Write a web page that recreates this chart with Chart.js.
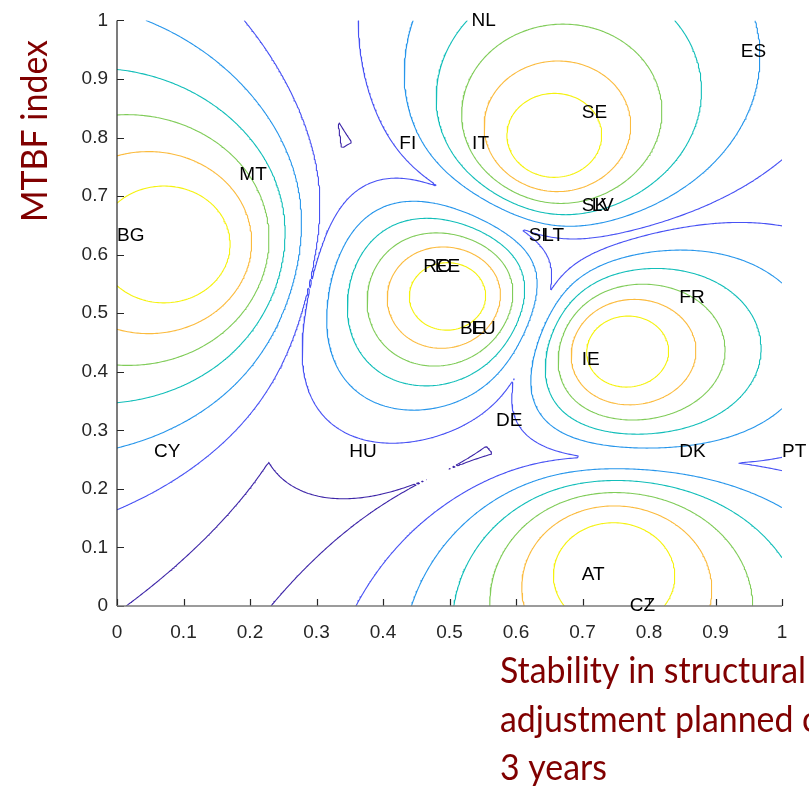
<!DOCTYPE html>
<html>
<head>
<meta charset="utf-8">
<title>MTBF index vs stability — fuzzy clusters</title>
<script src="https://cdn.jsdelivr.net/npm/chart.js@4.4.1/dist/chart.umd.min.js"></script>
<style>
  html, body { margin: 0; padding: 0; background: #ffffff; overflow: hidden; }
  #wrap { position: relative; width: 809px; height: 789px; }
  canvas { display: block; }
</style>
</head>
<body>
<div id="wrap"><canvas id="chart" width="809" height="789"></canvas></div>
<script>
// ---- Country positions -------------------------------------------------
const countries = ['NL','ES','SE','FI','IT','MT','SK','LV','BG','SI','LT','RO','EE',
                   'FR','BE','LU','IE','DE','CY','HU','DK','PT','AT','CZ'];
const stability = [0.533, 0.938, 0.699, 0.4245, 0.534, 0.184, 0.699, 0.714, 0.0, 0.619, 0.641, 0.4606, 0.478,
                   0.8456, 0.5158, 0.533, 0.699, 0.570, 0.0556, 0.3494, 0.8456, 1.0, 0.699, 0.771];
const mtbf      = [1.0, 0.947, 0.842, 0.789, 0.789, 0.737, 0.684, 0.684, 0.632, 0.632, 0.632, 0.579, 0.579,
                   0.526, 0.474, 0.474, 0.421, 0.316, 0.263, 0.263, 0.263, 0.263, 0.053, 0.0];

// ---- Fuzzy c-means cluster centres (x = stability, y = MTBF index) ------
const centreX = [0.088, 0.654, 0.502, 0.761, 0.745];
const centreY = [0.615, 0.792, 0.530, 0.436, 0.068];
const fuzzifier = 2;

// ---- Contour levels of the highest membership grade ---------------------
const levels = [0.3, 0.4, 0.5, 0.6, 0.7, 0.8, 0.9];

// ---- Axis ticks ---------------------------------------------------------
const tickValues = [0, 0.1, 0.2, 0.3, 0.4, 0.5, 0.6, 0.7, 0.8, 0.9, 1];
const tickLabels = ['0', '0.1', '0.2', '0.3', '0.4', '0.5', '0.6', '0.7', '0.8', '0.9', '1'];

// parula-style colour for each level
const levelColours = ['#3e26a8', '#4852f4', '#2796eb', '#12beb9', '#80cc59', '#fbbb3e', '#f5f20e'];

// Highest membership grade among all clusters at (x, y)
function topMembership(x, y) {
  let sum = 0, best = 0;
  const p = 1 / (fuzzifier - 1);
  for (let k = 0; k < centreX.length; k++) {
    const d2 = (x - centreX[k]) ** 2 + (y - centreY[k]) ** 2;
    if (d2 < 1e-14) return 1;
    const w = Math.pow(d2, -p);
    sum += w;
    if (w > best) best = w;
  }
  return best / sum;
}

// Sample the membership surface on a regular grid over the unit square
const N = 320;
const surface = [];
for (let j = 0; j <= N; j++) {
  const row = new Float64Array(N + 1);
  for (let i = 0; i <= N; i++) row[i] = topMembership(i / N, j / N);
  surface.push(row);
}

// Marching squares: segments of the iso-line at one level
function isoSegments(level) {
  const segs = [];
  const single = {1:[['l','b']], 2:[['b','r']], 3:[['l','r']], 4:[['r','t']], 6:[['b','t']],
                  7:[['l','t']], 8:[['t','l']], 9:[['t','b']], 11:[['t','r']], 12:[['r','l']],
                  13:[['r','b']], 14:[['b','l']]};
  for (let j = 0; j < N; j++) {
    for (let i = 0; i < N; i++) {
      const v0 = surface[j][i], v1 = surface[j][i + 1], v2 = surface[j + 1][i + 1], v3 = surface[j + 1][i];
      const c = (v0 > level ? 1 : 0) | (v1 > level ? 2 : 0) | (v2 > level ? 4 : 0) | (v3 > level ? 8 : 0);
      if (c === 0 || c === 15) continue;
      const edge = {
        b: () => ({ key: 'h' + i + '_' + j,       x: (i + (level - v0) / (v1 - v0)) / N, y: j / N }),
        r: () => ({ key: 'v' + (i + 1) + '_' + j, x: (i + 1) / N, y: (j + (level - v1) / (v2 - v1)) / N }),
        t: () => ({ key: 'h' + i + '_' + (j + 1), x: (i + (level - v3) / (v2 - v3)) / N, y: (j + 1) / N }),
        l: () => ({ key: 'v' + i + '_' + j,       x: i / N, y: (j + (level - v0) / (v3 - v0)) / N })
      };
      let pairs;
      if (c === 5 || c === 10) {
        const mid = (v0 + v1 + v2 + v3) / 4 > level;
        if (c === 5) pairs = mid ? [['l','t'], ['b','r']] : [['l','b'], ['r','t']];
        else         pairs = mid ? [['b','l'], ['t','r']] : [['b','r'], ['t','l']];
      } else {
        pairs = single[c];
      }
      for (const [a, b] of pairs) segs.push([edge[a](), edge[b]()]);
    }
  }
  return segs;
}

// Join segments that share an edge crossing into continuous polylines
function joinSegments(segs) {
  const ends = new Map();
  segs.forEach((s, idx) => {
    for (const p of s) {
      if (!ends.has(p.key)) ends.set(p.key, []);
      ends.get(p.key).push(idx);
    }
  });
  const used = new Uint8Array(segs.length);
  const grow = (line) => {
    for (;;) {
      const last = line[line.length - 1];
      const next = (ends.get(last.key) || []).find(k => !used[k]);
      if (next === undefined) break;
      used[next] = 1;
      const s = segs[next];
      line.push(s[0].key === last.key ? s[1] : s[0]);
    }
  };
  const lines = [];
  for (let s = 0; s < segs.length; s++) {
    if (used[s]) continue;
    used[s] = 1;
    const line = [segs[s][0], segs[s][1]];
    grow(line);
    line.reverse();
    grow(line);
    lines.push(line);
  }
  return lines;
}

const datasets = levels.map((level, li) => {
  const data = [];
  for (const line of joinSegments(isoSegments(level))) {
    for (const p of line) data.push({ x: p.x, y: p.y });
    data.push({ x: null, y: null });
  }
  return {
    label: 'membership ' + level,
    data,
    showLine: true,
    spanGaps: false,
    borderColor: levelColours[li],
    borderWidth: 1.1,
    pointRadius: 0,
    pointHoverRadius: 0,
    tension: 0,
    borderJoinStyle: 'round'
  };
});

// Inward tick marks and the two axis lines
const axesPlugin = {
  id: 'axesInward',
  afterDatasetsDraw(chart) {
    const { ctx, chartArea: a, scales: { x, y } } = chart;
    ctx.save();
    ctx.lineWidth = 1.2;
    ctx.strokeStyle = '#262626';
    ctx.beginPath();
    ctx.moveTo(a.left, a.top);
    ctx.lineTo(a.left, a.bottom);
    for (const v of tickValues) {
      const py = Math.round(y.getPixelForValue(v)) + 0.5;
      ctx.moveTo(a.left, py);
      ctx.lineTo(a.left + 7, py);
      const px = Math.round(x.getPixelForValue(v)) + 0.5;
      ctx.moveTo(px, a.bottom);
      ctx.lineTo(px, a.bottom - 7);
    }
    ctx.stroke();
    ctx.strokeStyle = '#7a7a7a';
    ctx.lineWidth = 1.5;
    ctx.beginPath();
    ctx.moveTo(a.left, a.bottom);
    ctx.lineTo(a.right, a.bottom);
    ctx.stroke();
    ctx.restore();
  }
};

// Country codes written at their positions
const labelPlugin = {
  id: 'countryCodes',
  afterDatasetsDraw(chart) {
    const { ctx, scales: { x, y } } = chart;
    ctx.save();
    ctx.font = '19px "Liberation Sans", Arial, sans-serif';
    ctx.fillStyle = '#000000';
    ctx.textAlign = 'left';
    ctx.textBaseline = 'middle';
    countries.forEach((name, i) => {
      ctx.fillText(name, x.getPixelForValue(stability[i]), y.getPixelForValue(mtbf[i]));
    });
    ctx.restore();
  }
};

// Axis titles in dark red
const titlePlugin = {
  id: 'axisTitles',
  afterDraw(chart) {
    const { ctx } = chart;
    ctx.save();
    ctx.fillStyle = '#800000';
    ctx.font = '36px Lato, "Open Sans", sans-serif';

    ctx.save();
    ctx.translate(47, 131);
    ctx.rotate(-Math.PI / 2);
    const yTitle = 'MTBF index';
    ctx.scale(182 / ctx.measureText(yTitle).width, 1);
    ctx.textAlign = 'center';
    ctx.textBaseline = 'alphabetic';
    ctx.fillText(yTitle, 0, 0);
    ctx.restore();

    const xTitle = ['Stability in structural', 'adjustment planned over', '3 years'];
    const k = 306 / ctx.measureText(xTitle[0]).width;
    ctx.save();
    ctx.translate(500, 0);
    ctx.scale(k, 1);
    ctx.textAlign = 'left';
    ctx.textBaseline = 'alphabetic';
    ctx.fillText(xTitle[0], 0, 683);
    ctx.fillText(xTitle[1], 0, 732);
    ctx.fillText(xTitle[2], 0, 780);
    ctx.restore();
    ctx.restore();
  }
};

const tickFont = { family: '"Liberation Sans", Arial, sans-serif', size: 19 };
const tickText = (v) => tickLabels[tickValues.findIndex(t => Math.abs(t - v) < 1e-9)] ?? '';

new Chart(document.getElementById('chart').getContext('2d'), {
  type: 'scatter',
  data: { datasets },
  options: {
    responsive: false,
    animation: false,
    events: [],
    layout: { padding: { top: 16, right: 27, left: 0, bottom: 0 } },
    plugins: { legend: { display: false }, tooltip: { enabled: false } },
    scales: {
      x: {
        type: 'linear', min: 0, max: 1,
        grid: { display: false, drawTicks: false },
        border: { display: false },
        afterBuildTicks: (s) => { s.ticks = tickValues.map(v => ({ value: v })); },
        ticks: { padding: 15, color: '#262626', font: tickFont, autoSkip: false, maxRotation: 0, callback: tickText },
        afterFit: (s) => { s.height = 183; }
      },
      y: {
        type: 'linear', min: 0, max: 1,
        grid: { display: false, drawTicks: false },
        border: { display: false },
        afterBuildTicks: (s) => { s.ticks = tickValues.map(v => ({ value: v })); },
        ticks: { padding: 9, color: '#262626', font: tickFont, autoSkip: false, callback: tickText },
        afterFit: (s) => { s.width = 117; }
      }
    }
  },
  plugins: [axesPlugin, labelPlugin, titlePlugin]
});
</script>
</body>
</html>
